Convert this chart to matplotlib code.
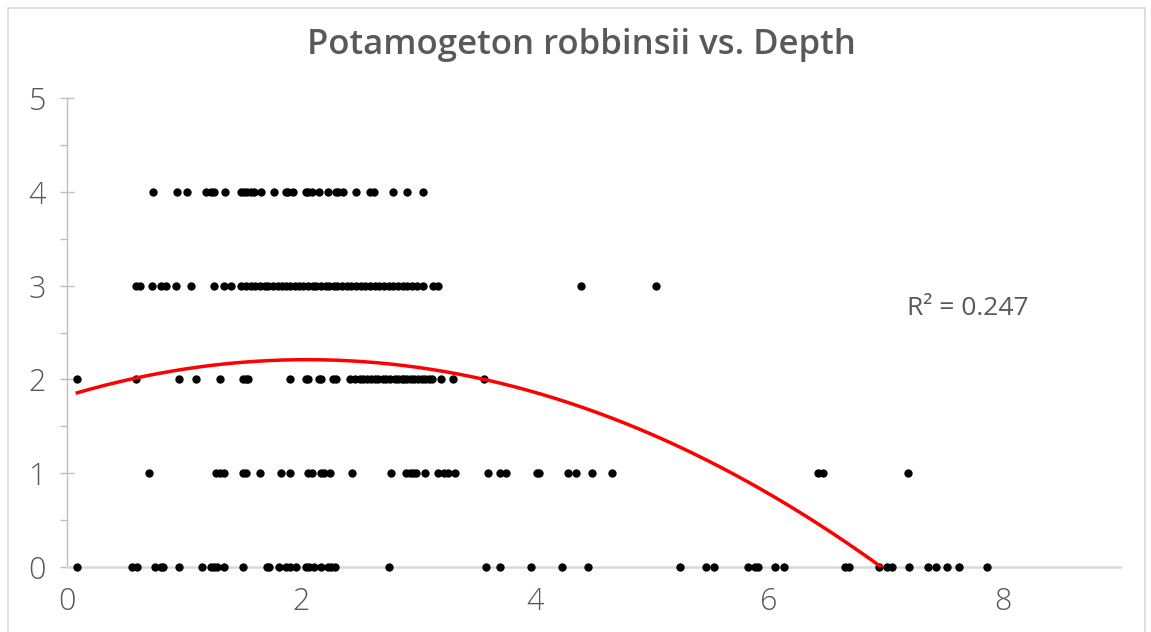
import numpy as np
import matplotlib.pyplot as plt
from matplotlib.patches import Rectangle
from matplotlib.ticker import MultipleLocator

# depth values (x) for each abundance level (y)
depth_4 = [0.735, 0.936, 1.022, 1.19, 1.23, 1.26, 1.35, 1.485, 1.51, 1.54, 1.57, 1.595,
           1.657, 1.77, 1.87, 1.89, 1.935, 2.04, 2.06, 2.09, 2.15, 2.23, 2.30, 2.315,
           2.36, 2.47, 2.59, 2.62, 2.79, 2.91, 3.04]
depth_3 = [0.59, 0.62, 0.73, 0.80, 0.85, 0.93, 1.06, 1.26, 1.34, 1.405,
           1.49, 1.53, 1.57, 1.61, 1.65, 1.69, 1.72, 1.76, 1.80, 1.84, 1.87, 1.91,
           1.95, 1.98, 2.02, 2.06, 2.10, 2.13, 2.17, 2.21, 2.24, 2.28, 2.31, 2.35,
           2.39, 2.43, 2.47, 2.51, 2.55, 2.59, 2.63, 2.67, 2.71, 2.75, 2.79, 2.83,
           2.87, 2.91, 2.95, 2.99, 3.04, 3.13, 3.17, 4.395, 5.03]
depth_2 = [0.088, 0.59, 0.955, 1.105, 1.31, 1.50, 1.53, 1.55, 1.91, 2.04, 2.06,
           2.15, 2.17, 2.27, 2.30, 2.415, 2.46, 2.50, 2.53, 2.56, 2.60, 2.63, 2.66,
           2.70, 2.73, 2.76, 2.80, 2.83, 2.86, 2.88, 2.91, 2.94, 2.97, 3.00, 3.03,
           3.06, 3.09, 3.12, 3.20, 3.30, 3.56]
depth_1 = [0.705, 1.27, 1.31, 1.34, 1.50, 1.53, 1.65, 1.83, 1.91, 2.06, 2.09, 2.17,
           2.20, 2.25, 2.44, 2.77, 2.90, 2.93, 2.96, 2.98, 3.06, 3.17, 3.22, 3.26,
           3.32, 3.60, 3.70, 3.75, 4.02, 4.03, 4.28, 4.35, 4.49, 4.66, 6.42, 6.46, 7.19]
depth_0 = [0.088, 0.555, 0.60, 0.75, 0.80, 0.82, 0.955, 1.15, 1.23, 1.255, 1.28,
           1.34, 1.50, 1.71, 1.73, 1.81, 1.87, 1.91, 1.96, 2.04, 2.07, 2.11, 2.17,
           2.23, 2.26, 2.29, 2.75, 3.58, 3.70, 3.97, 4.23, 4.45, 5.24, 5.46, 5.53,
           5.82, 5.88, 5.91, 6.05, 6.13, 6.65, 6.68, 6.94, 7.01, 7.05, 7.20, 7.36,
           7.43, 7.52, 7.62, 7.86]

levels = [4, 3, 2, 1, 0]
groups = [depth_4, depth_3, depth_2, depth_1, depth_0]

# 2nd order polynomial trendline (as drawn on the chart)
trend_coef = [-0.0917, 0.376, 1.825]
r_squared = 0.247

title = "Potamogeton robbinsii vs. Depth"
grey = "#595959"

x = np.concatenate([np.array(g) for g in groups])
y = np.concatenate([np.full(len(g), lv) for g, lv in zip(groups, levels)])

fig = plt.figure(figsize=(11.51, 6.32), dpi=100)
ax = fig.add_axes([67 / 1151, 65 / 632, 1053 / 1151, 469 / 632])

ax.scatter(x, y, s=36, color="black", zorder=3, clip_on=False, linewidths=0)

xt = np.linspace(x.min(), x.max(), 400)
ax.plot(xt, np.polyval(trend_coef, xt), color="#ff0000", lw=2.5, zorder=4)

ax.set_xlim(0, 9)
ax.set_ylim(0, 5)
ax.xaxis.set_major_locator(MultipleLocator(2))
ax.yaxis.set_major_locator(MultipleLocator(1))
ax.yaxis.set_minor_locator(MultipleLocator(0.5))

for s in ["top", "right"]:
    ax.spines[s].set_visible(False)
ax.spines["left"].set_color("#bfbfbf")
ax.spines["left"].set_linewidth(1.0)
ax.spines["bottom"].set_color("#d9d9d9")
ax.spines["bottom"].set_linewidth(1.8)

ax.tick_params(axis="y", which="major", direction="inout", length=10, width=1,
               color="#bfbfbf", labelsize=22, labelcolor=grey, pad=10)
ax.tick_params(axis="y", which="minor", direction="out", length=5, width=1,
               color="#bfbfbf")
ax.tick_params(axis="x", length=0, labelsize=22, labelcolor=grey, pad=14)
for lab in ax.get_xticklabels() + ax.get_yticklabels():
    lab.set_fontfamily("Open Sans")
    lab.set_fontweight("light")

fig.text(581 / 1151, 1 - 45 / 632, title, ha="center", va="center",
         fontsize=25, fontweight="semibold", color=grey, family="Open Sans")
ax.text(7.18, 2.76, f"R² = {r_squared}", fontsize=19, color=grey,
        family="Open Sans", ha="left", va="center")

fig.patches.append(Rectangle((8 / 1151, -0.05), 1137 / 1151, 1.05 - 8 / 632,
                             transform=fig.transFigure, fill=False,
                             edgecolor="#d9d9d9", lw=1.2))

fig.savefig("out.png", dpi=100)
